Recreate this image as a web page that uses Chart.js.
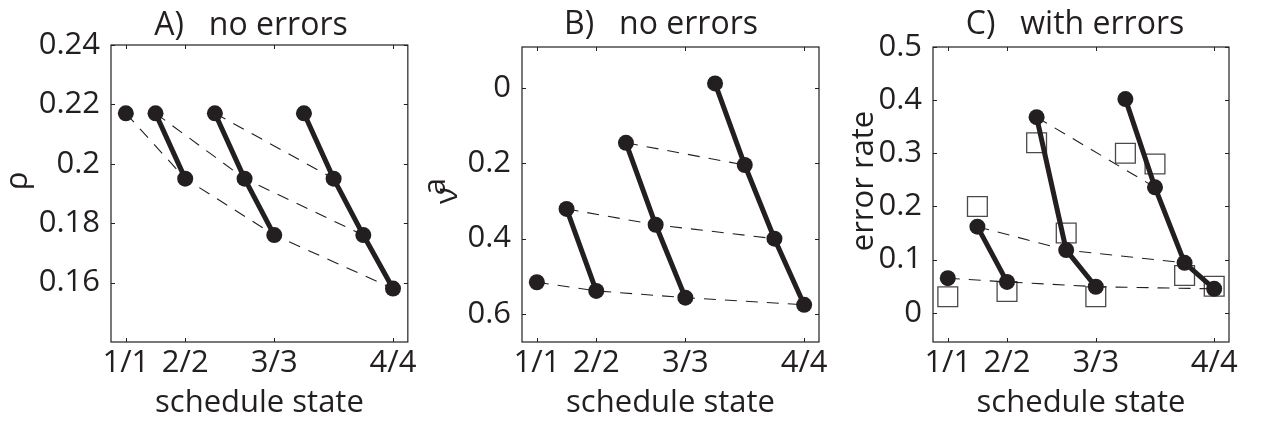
<!DOCTYPE html>
<html lang="en">
<head>
<meta charset="UTF-8">
<title>schedule state</title>
<script src="https://cdn.jsdelivr.net/npm/chart.js"></script>
<style>
  body { margin: 0; background: #fff; }
  canvas { position: absolute; top: 0; }
</style>
</head>
<body>
<canvas id="painelA" width="420" height="428" style="left:0px"></canvas>
<canvas id="painelB" width="420" height="428" style="left:420px"></canvas>
<canvas id="painelC" width="422" height="428" style="left:840px"></canvas>
<script>
    // positions of the 10 schedule states on the x axis (1/1, 1/2, 2/2, 1/3 ... 4/4)
    const statePos = [1, 2, 3, 4, 5, 6, 7, 8, 9, 10]
    const stateTickPos = [1, 3, 6, 10]
    const stateTickLabels = ['1/1', '2/2', '3/3', '4/4']

    // A) rho, no errors
    const rhoValues = [0.217, 0.217, 0.195, 0.217, 0.195, 0.176, 0.217, 0.195, 0.176, 0.158]
    const rhoTicks = [0.16, 0.18, 0.2, 0.22, 0.24]

    // B) v^a, no errors
    const vaValues = [0.516, 0.321, 0.539, 0.145, 0.363, 0.557, -0.013, 0.204, 0.4, 0.576]
    const vaTicks = [0, 0.2, 0.4, 0.6]

    // C) error rate, with errors (circles = model, squares = data)
    const errModel = [0.065, 0.162, 0.058, 0.368, 0.118, 0.049, 0.402, 0.236, 0.094, 0.045]
    const errData = [0.03, 0.2, 0.04, 0.32, 0.15, 0.03, 0.3, 0.28, 0.07, 0.05]
    const errTicks = [0, 0.1, 0.2, 0.3, 0.4, 0.5]

    // which states are joined by solid lines and by dashed lines (indices)
    const solidChains = [[1, 2], [3, 4, 5], [6, 7, 8, 9]]
    const dashedChains = [[0, 2, 5, 9], [1, 4, 8], [3, 7]]

    const tinta = '#231f20'
    const fonte = '"Open Sans", "Liberation Sans", sans-serif'
    const tam = 31

    const moldura = {
        id: 'moldura',
        beforeDatasetsDraw(chart, args, opts) {
            const { ctx, chartArea: a, scales: { x, y } } = chart
            ctx.save()
            ctx.strokeStyle = tinta
            ctx.lineWidth = 1.2
            ctx.strokeRect(a.left, a.top, a.width, a.height)
            ctx.lineWidth = 1
            ctx.beginPath()
            x.ticks.forEach(function (t) {
                const px = Math.round(x.getPixelForValue(t.value)) + 0.5
                ctx.moveTo(px, a.bottom); ctx.lineTo(px, a.bottom - 4)
                ctx.moveTo(px, a.top); ctx.lineTo(px, a.top + 4)
            })
            y.ticks.forEach(function (t) {
                const py = Math.round(y.getPixelForValue(t.value)) + 0.5
                ctx.moveTo(a.left, py); ctx.lineTo(a.left + 4, py)
                ctx.moveTo(a.right, py); ctx.lineTo(a.right - 4, py)
            })
            ctx.stroke()
            ctx.restore()
        },
        afterDraw(chart, args, opts) {
            const ctx = chart.ctx
            ctx.save()
            ctx.fillStyle = tinta
            ctx.font = '32px ' + fonte
            ctx.textBaseline = 'alphabetic'
            ctx.textAlign = 'center'
            ctx.fillText(opts.titulo, opts.tituloX, opts.tituloY)

            // y label, rotated
            ctx.font = tam + 'px ' + fonte
            ctx.translate(opts.rotuloX, opts.rotuloY)
            ctx.rotate(-Math.PI / 2)
            ctx.textAlign = 'left'
            let total = 0
            opts.rotulo.forEach(function (p) { total += ctx.measureText(p.text).width + (p.dx || 0) })
            let cursor = -total / 2
            opts.rotulo.forEach(function (p) {
                cursor += (p.dx || 0)
                ctx.fillText(p.text, cursor, p.dy || 0)
                cursor += ctx.measureText(p.text).width
            })
            ctx.restore()
        }
    }

    function pontos(valores) {
        return valores.map(function (v, i) { return { x: statePos[i], y: v } })
    }

    function criaPainel(id, cfg) {
        const el = document.getElementById(id)
        const datasets = []

        datasets.push({
            data: pontos(cfg.valores),
            showLine: false,
            pointRadius: 8,
            pointBackgroundColor: tinta,
            pointBorderWidth: 0,
            order: 1
        })
        solidChains.forEach(function (c) {
            datasets.push({
                data: c.map(function (i) { return { x: statePos[i], y: cfg.valores[i] } }),
                showLine: true,
                borderColor: tinta,
                borderWidth: 5,
                pointRadius: 0,
                order: 2
            })
        })
        dashedChains.forEach(function (c) {
            datasets.push({
                data: c.map(function (i) { return { x: statePos[i], y: cfg.valores[i] } }),
                showLine: true,
                borderColor: tinta,
                borderWidth: 1.1,
                borderDash: [12, 9],
                pointRadius: 0,
                order: 3
            })
        })
        if (cfg.quadrados) {
            datasets.push({
                data: pontos(cfg.quadrados),
                showLine: false,
                pointStyle: 'rect',
                pointRadius: 14,
                pointBackgroundColor: 'rgba(0,0,0,0)',
                pointBorderColor: '#4a4a4a',
                pointBorderWidth: 1.3,
                order: 4
            })
        }

        new Chart(el, {
            type: 'scatter',
            data: { datasets: datasets },
            plugins: [moldura],
            options: {
                responsive: false,
                animation: false,
                layout: {
                    padding: { top: cfg.area.top, right: el.width - cfg.area.right, left: 0, bottom: 0 }
                },
                plugins: {
                    legend: { display: false },
                    tooltip: { enabled: false },
                    moldura: cfg.textos
                },
                scales: {
                    x: {
                        type: 'linear',
                        min: 0.5,
                        max: 10.5,
                        afterBuildTicks: function (s) { s.ticks = stateTickPos.map(function (v) { return { value: v } }) },
                        afterFit: function (s) { s.height = el.height - cfg.area.bottom },
                        ticks: {
                            autoSkip: false,
                            maxRotation: 0,
                            padding: 3,
                            color: tinta,
                            font: { family: fonte, size: tam },
                            callback: function (v) { return stateTickLabels[stateTickPos.indexOf(v)] }
                        },
                        grid: { display: false, drawTicks: false },
                        border: { display: false },
                        title: {
                            display: true,
                            text: 'schedule state',
                            color: tinta,
                            font: { family: fonte, size: tam, lineHeight: 1.2 },
                            padding: { top: 0, bottom: 6 }
                        }
                    },
                    y: {
                        min: cfg.min,
                        max: cfg.max,
                        reverse: !!cfg.reverse,
                        afterBuildTicks: function (s) { s.ticks = cfg.ticks.map(function (v) { return { value: v } }) },
                        afterFit: function (s) { s.width = cfg.area.left },
                        ticks: {
                            padding: 11,
                            color: tinta,
                            font: { family: fonte, size: tam },
                            callback: function (v) { return String(v) }
                        },
                        grid: { display: false, drawTicks: false },
                        border: { display: false }
                    }
                }
            }
        })
    }

    criaPainel('painelA', {
        valores: rhoValues, ticks: rhoTicks, min: 0.14, max: 0.24,
        area: { left: 111, right: 408, top: 45, bottom: 342 },
        textos: { titulo: 'A)   no errors', tituloX: 251, tituloY: 35, rotulo: [{ text: 'ρ' }], rotuloX: 27, rotuloY: 181 }
    })

    criaPainel('painelB', {
        valores: vaValues, ticks: vaTicks, min: -0.11, max: 0.675, reverse: true,
        area: { left: 102, right: 399, top: 47, bottom: 342 },
        textos: { titulo: 'B)   no errors', tituloX: 241, tituloY: 34, rotulo: [{ text: 'ν' }, { text: 'a', dx: -8, dy: -12 }], rotuloX: 37, rotuloY: 191 }
    })

    criaPainel('painelC', {
        valores: errModel, quadrados: errData, ticks: errTicks, min: -0.055, max: 0.5,
        area: { left: 93, right: 389, top: 47, bottom: 342 },
        textos: { titulo: 'C)   with errors', tituloX: 235, tituloY: 34, rotulo: [{ text: 'error rate' }], rotuloX: 33, rotuloY: 181 }
    })
</script>
</body>
</html>
